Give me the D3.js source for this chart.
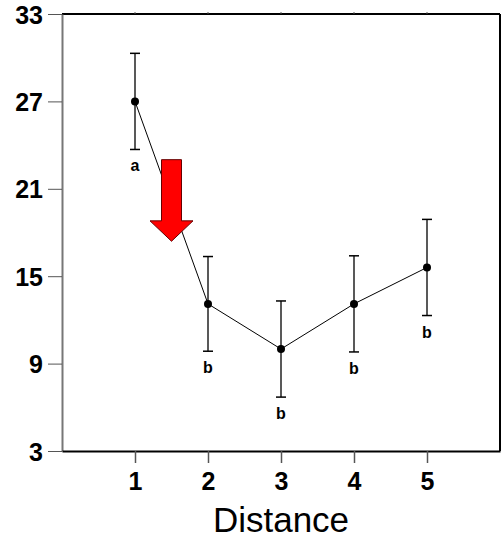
<!DOCTYPE html>
<html>
<head>
<meta charset="utf-8" />
<style>
html, body { margin: 0; padding: 0; background: #fff; }
svg text { font-family: "Liberation Sans", Arial, sans-serif; }
</style>
</head>
<body>
<svg id="chart" width="503" height="538"></svg>
<script src="https://d3js.org/d3.v7.min.js"></script>
<script>
// data
var distance = [1, 2, 3, 4, 5];
var means    = [27.0, 13.1, 10.0, 13.1, 15.6];
var errs     = [3.3, 3.25, 3.3, 3.3, 3.3];
var letters  = ["a", "b", "b", "b", "b"];
var yTicks   = [3, 9, 15, 21, 27, 33];
var arrow    = {x: 1.5, top: 23, base: 18.8, tip: 17.4};

(function() {
var svg = d3.select("#chart");
var mL = 62, mR = 500, mT = 14, mB = 451;

var x = d3.scaleLinear().domain([0, 6]).range([mL, mR]);
var y = d3.scaleLinear().domain([3, 33]).range([mB, mT]);

// frame top / right
svg.append("line").attr("x1", mL).attr("x2", mR).attr("y1", mT).attr("y2", mT)
  .attr("stroke", "#000").attr("stroke-width", 2);
svg.append("line").attr("x1", mR).attr("x2", mR).attr("y1", mT).attr("y2", mB)
  .attr("stroke", "#000").attr("stroke-width", 2);

// y axis
var ya = svg.append("g").attr("transform", "translate(" + mL + ",0)")
  .call(d3.axisLeft(y).tickValues(yTicks).tickFormat(d3.format("d"))
    .tickSize(14).tickPadding(5).tickSizeOuter(0));
ya.select(".domain").attr("stroke", "#777").attr("stroke-width", 2);
ya.selectAll(".tick line").attr("stroke", "#555");
ya.selectAll("text").style("font-size", "25px").style("font-weight", "bold").attr("fill", "#000")
  .style("font-family", "Liberation Sans, Arial, sans-serif").attr("dy", "0.36em");

// x axis
var xa = svg.append("g").attr("transform", "translate(0," + mB + ")")
  .call(d3.axisBottom(x).tickValues(distance).tickFormat(d3.format("d"))
    .tickSize(12).tickPadding(9).tickSizeOuter(0));
xa.select(".domain").attr("stroke", "#000").attr("stroke-width", 2);
xa.selectAll(".tick line").attr("stroke", "#555").attr("stroke-width", 1.5);
xa.selectAll("text").style("font-size", "25px").style("font-weight", "bold").attr("fill", "#000")
  .style("font-family", "Liberation Sans, Arial, sans-serif");

// tiny ticks on the top edge
svg.selectAll(".topTick").data(distance).enter().append("line")
  .attr("x1", function(d){ return x(d); }).attr("x2", function(d){ return x(d); })
  .attr("y1", mT - 2).attr("y2", mT).attr("stroke", "#555");

svg.append("text").attr("x", (mL + mR) / 2).attr("y", 532)
  .attr("text-anchor", "middle").style("font-size", "35px").text("Distance");

// error bars
var g = svg.append("g");
distance.forEach(function(d, i) {
  var cx = x(d), y1 = y(means[i] + errs[i]), y0 = y(means[i] - errs[i]);
  g.append("line").attr("x1", cx).attr("x2", cx).attr("y1", y1).attr("y2", y0)
    .attr("stroke", "#222").attr("stroke-width", 1.5);
  [y1, y0].forEach(function(yy) {
    g.append("line").attr("x1", cx - 5).attr("x2", cx + 5).attr("y1", yy).attr("y2", yy)
      .attr("stroke", "#000").attr("stroke-width", 1.5);
  });
  g.append("text").attr("x", cx).attr("y", y0 + 22).attr("text-anchor", "middle")
    .style("font-size", "16px").style("font-weight", "bold").text(letters[i]);
});

// mean line and points
var line = d3.line().x(function(d, i){ return x(distance[i]); }).y(function(d){ return y(d); });
g.append("path").datum(means).attr("d", line).attr("fill", "none")
  .attr("stroke", "#000").attr("stroke-width", 1);
g.selectAll("circle").data(means).enter().append("circle")
  .attr("cx", function(d, i){ return x(distance[i]); })
  .attr("cy", function(d){ return y(d); })
  .attr("r", 4).attr("fill", "#000");

// red arrow
var ax = x(arrow.x), bw = 10, hw = 21.5;
var pts = [
  [ax - bw, y(arrow.top)], [ax + bw, y(arrow.top)], [ax + bw, y(arrow.base)],
  [ax + hw, y(arrow.base)], [ax, y(arrow.tip)], [ax - hw, y(arrow.base)],
  [ax - bw, y(arrow.base)]
];
svg.append("path").attr("d", "M" + pts.join("L") + "Z")
  .attr("fill", "#ff0000").attr("stroke", "#600").attr("stroke-width", 1);
})();
</script>
</body>
</html>
